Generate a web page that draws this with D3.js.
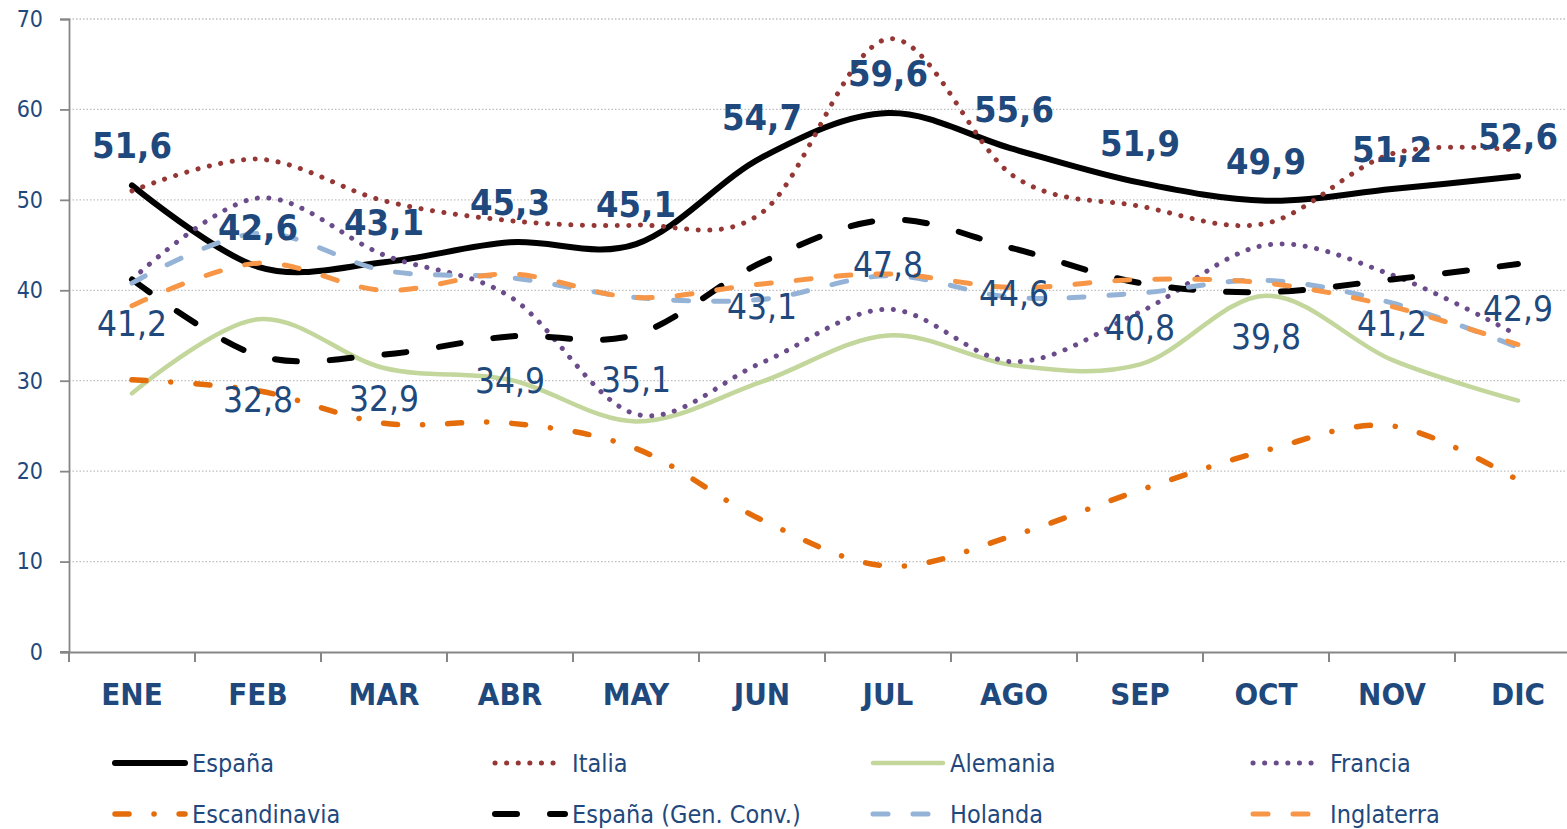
<!DOCTYPE html>
<html>
<head>
<meta charset="utf-8">
<script src="https://cdn.jsdelivr.net/npm/d3@7"></script>
<style>
	body{margin:0; background:#fff;}
	svg text{font-family:"DejaVu Sans Condensed","DejaVu Sans",sans-serif; font-stretch:condensed;}
</style>
</head>
<body>
<div id="chart"></div>
<script>
// months and series values
let months = ["ENE","FEB","MAR","ABR","MAY","JUN","JUL","AGO","SEP","OCT","NOV","DIC"];
let espana = [51.6, 42.6, 43.1, 45.3, 45.1, 54.7, 59.6, 55.6, 51.9, 49.9, 51.2, 52.6];
let italia = [51.0, 54.5, 49.9, 47.7, 47.2, 48.6, 67.8, 52.6, 49.3, 47.4, 55.1, 55.5];
let alemania = [28.6, 36.8, 31.4, 30.1, 25.5, 29.9, 35.0, 31.7, 31.8, 39.4, 32.3, 27.8];
let francia = [41.2, 50.2, 43.9, 39.3, 26.3, 32.0, 37.9, 32.1, 37.6, 45.0, 41.7, 35.0];
let escandinavia = [30.1, 28.9, 25.3, 25.3, 22.5, 14.6, 9.5, 12.9, 17.9, 22.3, 25.0, 19.0];
let genConv = [41.2, 32.8, 32.9, 34.9, 35.1, 43.1, 47.8, 44.6, 40.8, 39.8, 41.2, 42.9];
let holanda = [40.8, 46.3, 42.2, 41.4, 39.2, 39.0, 41.6, 39.2, 39.7, 41.1, 38.6, 33.7];
let inglaterra = [38.3, 43.0, 40.0, 41.8, 39.2, 40.7, 41.8, 40.3, 41.2, 40.8, 38.2, 34.0];
let yTicks = [0, 10, 20, 30, 40, 50, 60, 70];

// series in drawing order (same as legend order)
let series = [
	{name:"España", values:espana, color:"#000000", width:6, dash:null},
	{name:"Italia", values:italia, color:"#953735", width:5, dash:"0.1 11.5"},
	{name:"Alemania", values:alemania, color:"#C3D69B", width:4.5, dash:null},
	{name:"Francia", values:francia, color:"#6B4C8A", width:5, dash:"0.1 11.5"},
	{name:"Escandinavia", values:escandinavia, color:"#E46C0A", width:5.5, dash:"14 25 0.1 25"},
	{name:"España (Gen. Conv.)", values:genConv, color:"#000000", width:6, dash:"22 33"},
	{name:"Holanda", values:holanda, color:"#95B3D7", width:5, dash:"15 25"},
	{name:"Inglaterra", values:inglaterra, color:"#F79646", width:5, dash:"15 25"}
];

let W = 1567, H = 829,
	textColor = "#1F497D",
	axisColor = "#868686",
	fmt = function(v){ return d3.format(".1f")(v).replace(".", ","); };

let svg = d3.select("#chart").append("svg").attr("width", W).attr("height", H);

let x = d3.scaleBand().domain(months).range([69, 69 + 12*126]).padding(0);
let y = d3.scaleLinear().domain([0, 70]).range([652, 19]);
let cx = function(m){ return x(m) + x.bandwidth()/2; };

// gridlines
svg.append("g").selectAll("line").data(yTicks.filter(function(t){ return t > 0; })).join("line")
	.attr("x1", 69).attr("x2", W)
	.attr("y1", function(d){ return y(d); }).attr("y2", function(d){ return y(d); })
	.attr("stroke", "#BFBFBF").attr("stroke-width", 1.3).attr("stroke-dasharray", "1.5 2");

// y axis
let yAxis = svg.append("g").attr("transform", "translate(69,0)")
	.call(d3.axisLeft(y).tickValues(yTicks).tickSize(9).tickPadding(17));
yAxis.select(".domain").attr("stroke", axisColor).attr("stroke-width", 1.8);
yAxis.selectAll(".tick line").attr("stroke", axisColor).attr("stroke-width", 1.8);
yAxis.selectAll(".tick text").attr("fill", textColor).style("font-size", "23px");

// x axis
let xAxis = svg.append("g").attr("transform", "translate(0,652)")
	.call(d3.axisBottom(x).tickSize(0).tickPadding(31));
xAxis.select(".domain").attr("stroke", axisColor).attr("stroke-width", 2);
xAxis.selectAll(".tick text").attr("fill", textColor).style("font-size", "31px").style("font-weight", "bold");
xAxis.append("line").attr("x1", 60).attr("x2", 69).attr("y1", 0).attr("y2", 0)
	.attr("stroke", axisColor).attr("stroke-width", 2);
xAxis.selectAll("line.sep").data(d3.range(13)).join("line").attr("class", "sep")
	.attr("x1", function(d){ return 69 + d*x.step(); }).attr("x2", function(d){ return 69 + d*x.step(); })
	.attr("y1", 0).attr("y2", 10)
	.attr("stroke", axisColor).attr("stroke-width", 2);

// lines
let line = d3.line()
	.x(function(d, i){ return cx(months[i]); })
	.y(function(d){ return y(d); })
	.curve(d3.curveCardinal.tension(0));

series.forEach(function(s){
	svg.append("path").datum(s.values)
		.attr("d", line)
		.attr("fill", "none")
		.attr("stroke", s.color)
		.attr("stroke-width", s.width)
		.attr("stroke-linecap", "round")
		.attr("stroke-linejoin", "round")
		.attr("stroke-dasharray", s.dash);
});

// data labels: España (bold, above) and Gen. Conv. (regular, below)
svg.append("g").selectAll("text").data(espana).join("text")
	.attr("x", function(d, i){ return cx(months[i]); })
	.attr("y", function(d){ return y(d) - 27; })
	.attr("text-anchor", "middle")
	.attr("fill", textColor)
	.style("font-size", "36px").style("font-weight", "bold")
	.text(fmt);

svg.append("g").selectAll("text").data(genConv).join("text")
	.attr("x", function(d, i){ return cx(months[i]); })
	.attr("y", function(d){ return y(d) + 57; })
	.attr("text-anchor", "middle")
	.attr("fill", textColor)
	.style("font-size", "35px")
	.text(fmt);

// legend, 4 columns x 2 rows
let legendCols = [113, 493, 871, 1251],
	legendRows = [763, 814];
series.forEach(function(s, i){
	let lx = legendCols[i % 4],
		ly = legendRows[Math.floor(i / 4)],
		isDotted = s.dash && s.dash.indexOf("0.1 ") === 0;
	let g = svg.append("g").attr("transform", "translate(" + lx + "," + ly + ")");
	g.append("line")
		.attr("x1", 2).attr("x2", isDotted ? 62 : 72).attr("y1", 0).attr("y2", 0)
		.attr("stroke", s.color)
		.attr("stroke-width", s.width)
		.attr("stroke-linecap", "round")
		.attr("stroke-dasharray", s.dash);
	g.append("text")
		.attr("x", 79).attr("y", 9)
		.attr("fill", textColor)
		.style("font-size", "25px")
		.text(s.name);
});
</script>
</body>
</html>
